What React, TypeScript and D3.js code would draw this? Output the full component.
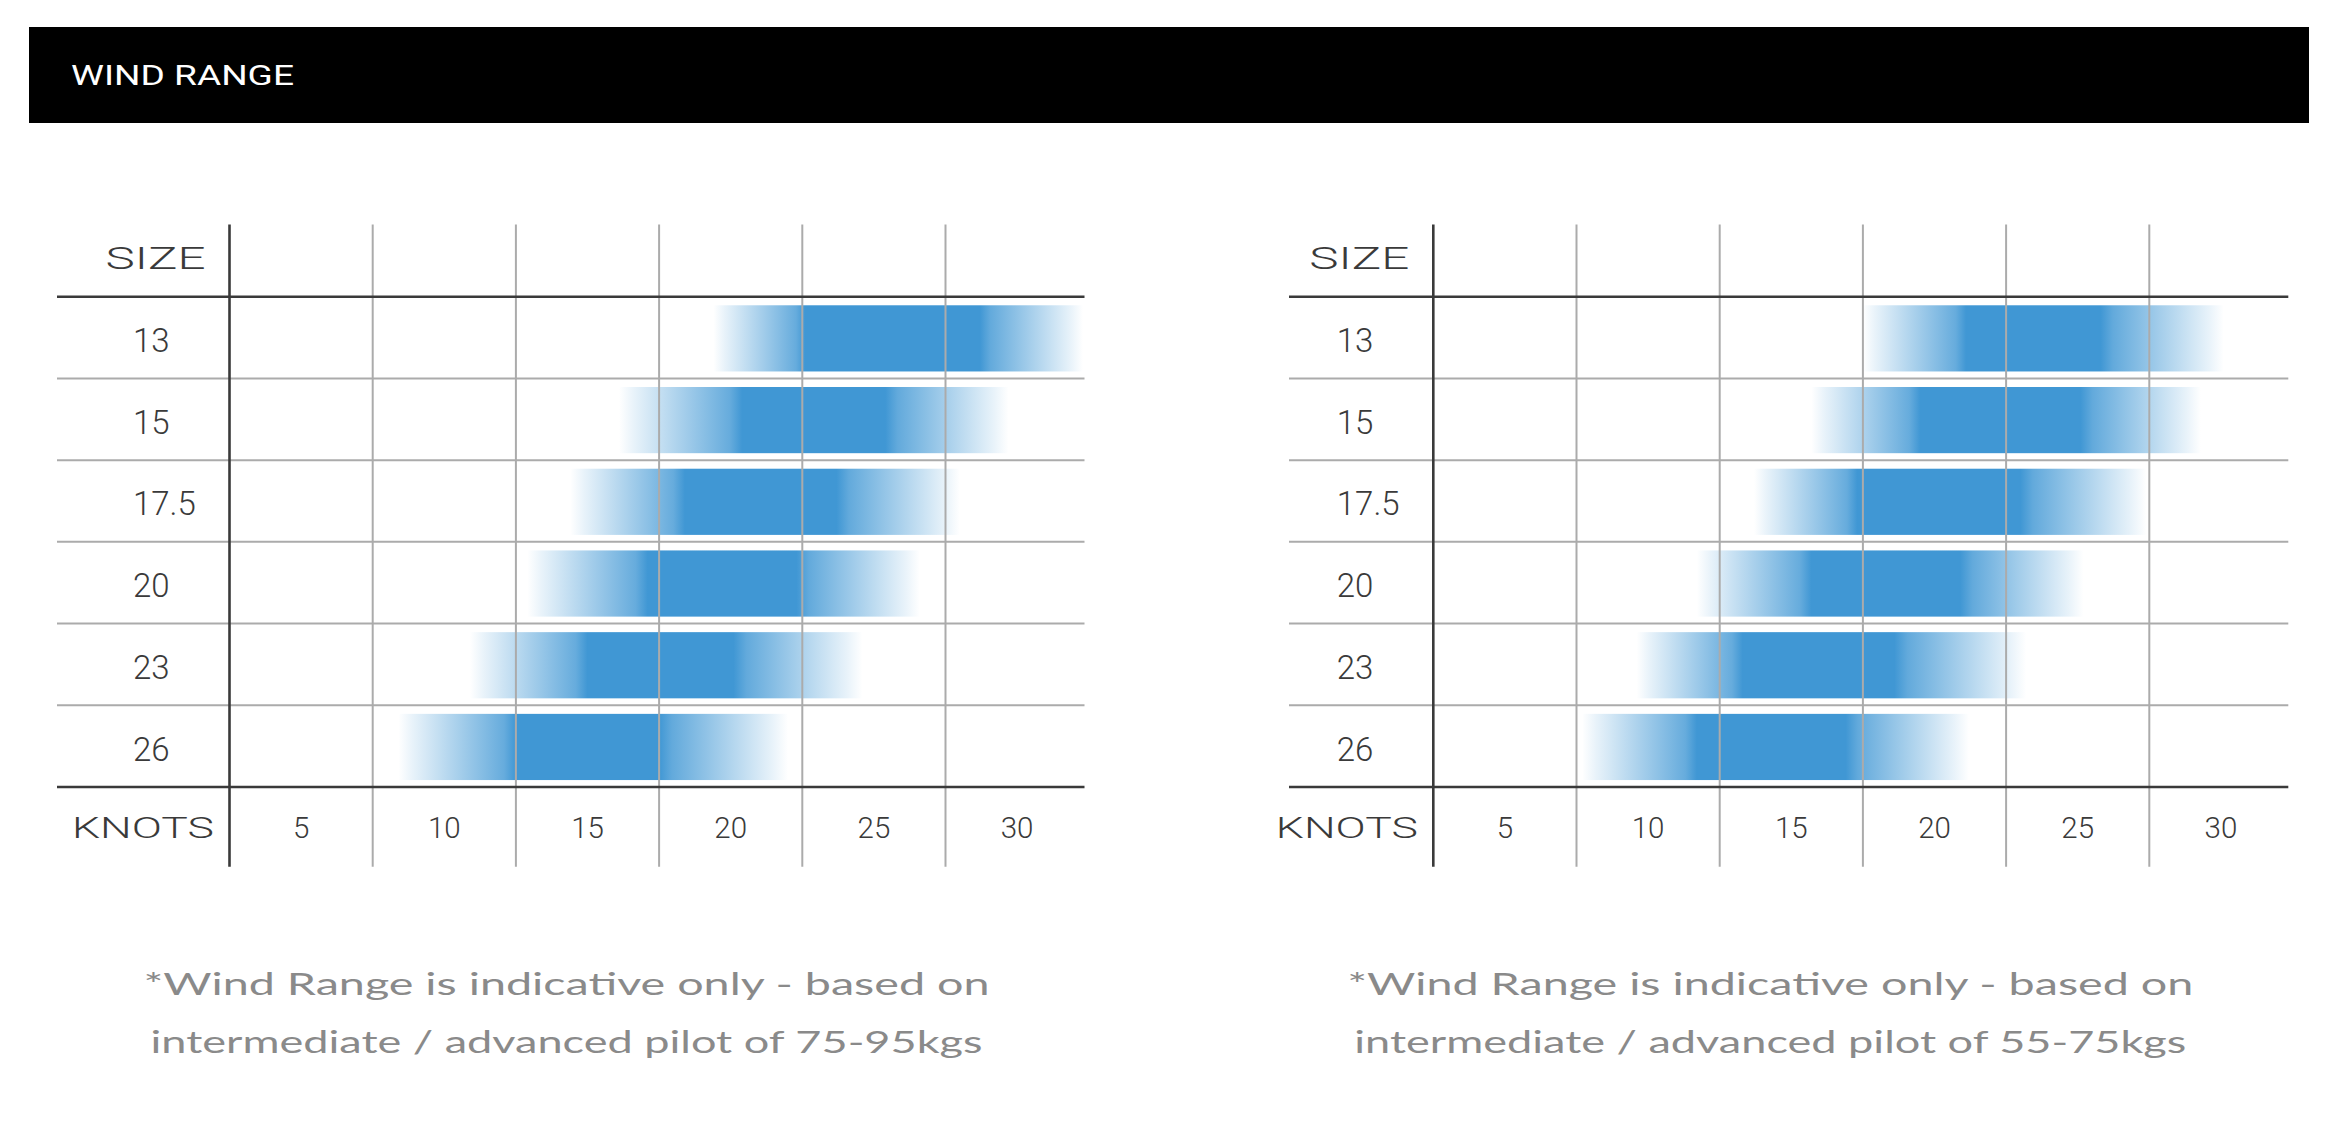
import React from "react";
import * as d3 from "d3";

// ---------- data ----------
const sizes = ["13", "15", "17.5", "20", "23", "26"];
const knotTicks = [5, 10, 15, 20, 25, 30];

// chart 1: pilot 75-95 kg (knots)
const heavyMin = [19.4, 16.1, 14.4, 12.9, 10.9, 8.4];
const heavyIdealLow = [22.6, 20.4, 18.4, 17.1, 15.0, 12.5];
const heavyIdealHigh = [28.7, 25.4, 23.7, 22.3, 20.1, 17.5];
const heavyMax = [32.3, 29.7, 28.0, 26.6, 24.6, 22.0];

// chart 2: pilot 55-75 kg (knots)
const lightMin = [17.5, 15.7, 13.7, 11.7, 9.6, 7.7];
const lightIdealLow = [21.1, 19.5, 17.3, 15.7, 13.3, 11.7];
const lightIdealHigh = [25.8, 25.1, 23.0, 20.9, 18.6, 16.9];
const lightMax = [30.1, 29.3, 27.4, 25.2, 23.2, 21.2];

const headerTitle = "WIND RANGE";
const sizeLabel = "SIZE";
const knotsLabel = "KNOTS";
const noteLine1 = "*Wind Range is indicative only - based on";
const heavyNote2 = "intermediate / advanced pilot of 75-95kgs";
const lightNote2 = "intermediate / advanced pilot of 55-75kgs";

// ---------- style ----------
const BLUE = "#4097d4";
const DARK = "#3a3a3a";
const GRID = "#ababab";
const NUM_FONT = "Roboto, 'Noto Sans', sans-serif";
const WIDE_FONT = "Roboto, 'Noto Sans', sans-serif";
const NOTE_FONT = "Lato, 'Noto Sans', sans-serif";

const TOP = 224.5;
const HEAD_Y = 296.7;
const BASE_Y = 787;
const BOTTOM = 866.7;
const COL_W = 143.2;

type ChartProps = {
  id: string;
  axisX: number;
  leftX: number;
  mins: number[];
  lows: number[];
  highs: number[];
  maxs: number[];
  note2: string;
};

function WindChart({ id, axisX, leftX, mins, lows, highs, maxs, note2 }: ChartProps) {
  const x = d3
    .scaleLinear()
    .domain([2.5, 32.5])
    .range([axisX, axisX + COL_W * 6]);
  const rightX = axisX + 855;
  const y = d3.scaleBand<string>().domain(sizes).range([HEAD_Y, BASE_Y]).padding(0);
  const bw = y.bandwidth();
  const gridKnots = knotTicks.slice(0, -1).map((k) => k + 2.5);

  return (
    <g>
      <defs>
        {sizes.map((s, i) => {
          const x0 = x(mins[i]);
          const x1 = x(maxs[i]);
          const a = (x(lows[i]) - x0) / (x1 - x0);
          const b = (x(highs[i]) - x0) / (x1 - x0);
          return (
            <linearGradient
              key={s}
              id={`${id}-g${i}`}
              gradientUnits="userSpaceOnUse"
              x1={x0}
              x2={x1}
              y1={0}
              y2={0}
            >
              <stop offset={0} stopColor={BLUE} stopOpacity={0} />
              <stop offset={a * 0.12} stopColor={BLUE} stopOpacity={0.12} />
              <stop offset={a * 0.9} stopColor={BLUE} stopOpacity={0.8} />
              <stop offset={a} stopColor={BLUE} stopOpacity={1} />
              <stop offset={b} stopColor={BLUE} stopOpacity={1} />
              <stop offset={b + (1 - b) * 0.1} stopColor={BLUE} stopOpacity={0.82} />
              <stop offset={1 - (1 - b) * 0.12} stopColor={BLUE} stopOpacity={0.12} />
              <stop offset={1} stopColor={BLUE} stopOpacity={0} />
            </linearGradient>
          );
        })}
      </defs>

      {/* bars */}
      {sizes.map((s, i) => (
        <rect
          key={s}
          x={x(mins[i])}
          width={Math.min(x(maxs[i]), rightX) - x(mins[i])}
          y={(y(s) as number) + bw * 0.105}
          height={bw * 0.81}
          fill={`url(#${id}-g${i})`}
        />
      ))}

      {/* vertical grid lines */}
      {gridKnots.map((k) => (
        <line key={k} x1={x(k)} x2={x(k)} y1={TOP} y2={BOTTOM} stroke={GRID} strokeWidth={2} />
      ))}
      {/* row lines */}
      {sizes.slice(1).map((s) => (
        <line
          key={s}
          x1={leftX}
          x2={rightX}
          y1={y(s) as number}
          y2={y(s) as number}
          stroke={GRID}
          strokeWidth={2}
        />
      ))}
      <line x1={leftX} x2={rightX} y1={HEAD_Y} y2={HEAD_Y} stroke={DARK} strokeWidth={2.6} />
      <line x1={leftX} x2={rightX} y1={BASE_Y} y2={BASE_Y} stroke={DARK} strokeWidth={2.6} />
      <line x1={axisX} x2={axisX} y1={TOP} y2={BOTTOM} stroke={DARK} strokeWidth={2.6} />

      {/* header labels */}
      <text
        x={axisX - 24}
        y={269}
        textAnchor="end"
        fontFamily={WIDE_FONT}
        fontWeight={300}
        fontSize={31}
        fill={DARK}
        textLength={100}
        lengthAdjust="spacingAndGlyphs"
      >
        {sizeLabel}
      </text>
      <text
        x={axisX - 15.5}
        y={837.7}
        textAnchor="end"
        fontFamily={WIDE_FONT}
        fontWeight={300}
        fontSize={29.5}
        fill={DARK}
        textLength={142}
        lengthAdjust="spacingAndGlyphs"
      >
        {knotsLabel}
      </text>

      {/* size labels */}
      {sizes.map((s) => (
        <text
          key={s}
          x={axisX - 96.5}
          y={(y(s) as number) + bw / 2 + 14.5}
          fontFamily={NUM_FONT}
          fontWeight={300}
          fontSize={33}
          fill={DARK}
        >
          {s}
        </text>
      ))}

      {/* knot ticks */}
      {knotTicks.map((k) => (
        <text
          key={k}
          x={x(k)}
          y={837.7}
          textAnchor="middle"
          fontFamily={NUM_FONT}
          fontWeight={300}
          fontSize={29.5}
          fill={DARK}
        >
          {k}
        </text>
      ))}

      {/* footnote */}
      <text
        x={axisX + 337}
        y={995}
        textAnchor="middle"
        fontFamily={NOTE_FONT}
        fontSize={30}
        fill="#8a8a8a"
        textLength={846}
        lengthAdjust="spacingAndGlyphs"
      >
        {noteLine1}
      </text>
      <text
        x={axisX + 337}
        y={1053.3}
        textAnchor="middle"
        fontFamily={NOTE_FONT}
        fontSize={30}
        fill="#8a8a8a"
        textLength={832}
        lengthAdjust="spacingAndGlyphs"
      >
        {note2}
      </text>
    </g>
  );
}

export default function App() {
  return (
    <svg
      width={2350}
      height={1144}
      style={{ position: "absolute", left: 0, top: 0, background: "#ffffff" }}
    >
      <rect x={0} y={0} width={2350} height={1144} fill="#ffffff" />
      <rect x={29} y={27} width={2280} height={96} fill="#000000" />
      <text
        x={71}
        y={85}
        fontFamily={WIDE_FONT}
        fontWeight={400}
        fontSize={28}
        fill="#ffffff"
        textLength={223}
        lengthAdjust="spacingAndGlyphs"
      >
        {headerTitle}
      </text>
      <WindChart
        id="heavy"
        axisX={229.5}
        leftX={57}
        mins={heavyMin}
        lows={heavyIdealLow}
        highs={heavyIdealHigh}
        maxs={heavyMax}
        note2={heavyNote2}
      />
      <WindChart
        id="light"
        axisX={1433.3}
        leftX={1289}
        mins={lightMin}
        lows={lightIdealLow}
        highs={lightIdealHigh}
        maxs={lightMax}
        note2={lightNote2}
      />
    </svg>
  );
}
